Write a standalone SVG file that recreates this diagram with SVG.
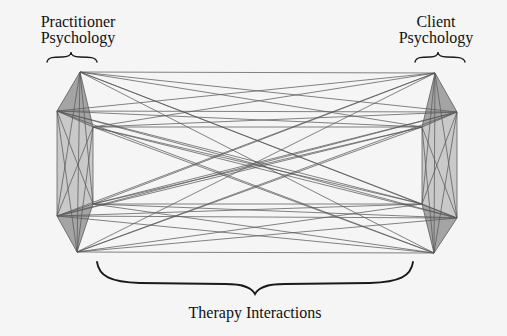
<svg xmlns="http://www.w3.org/2000/svg" width="507" height="336" viewBox="0 0 507 336">
<defs>
<style>
text{font-family:'Liberation Serif','Times New Roman',serif;font-size:16px;fill:#111;text-anchor:middle}
.e{stroke:#5a5a5a;stroke-width:0.75;fill:none}
.brace{stroke:#1a1a1a;fill:none;stroke-linecap:round}
.hex{fill:#c9c9c9;stroke:none}
.tri{fill:#a4a4a4;stroke:none}
</style>
</defs>
<rect width="507" height="336" fill="#f5f5f5"/>
<g id="practitioner">
<polygon class="hex" points="80,72 57,111 57,216 77,252 93,204 93,127"/>
<polygon class="tri" points="80,72 57,111 93,127"/>
<polygon class="tri" points="77,252 57,216 93,204"/>
<path class="e" d="M80,72L57,111M80,72L93,127M80,72L93,204M80,72L57,216M80,72L77,252M57,111L93,127M57,111L93,204M57,111L57,216M57,111L77,252M93,127L93,204M93,127L57,216M93,127L77,252M93,204L57,216M93,204L77,252M57,216L77,252"/>
<path class="brace" stroke-width="1.3" d="M47,62C48,57 54,57 62,57C69,57 71,55 71,52C71,55 73,57 80,57C89,57 96,57 97,62"/>
<text x="78" y="27" font-family="Liberation Serif, serif">Practitioner</text>
<text x="78" y="43" font-family="Liberation Serif, serif">Psychology</text>
</g>
<g id="client">
<polygon class="hex" points="435,73 422,127 422,204 434,253 457,218 457,112"/>
<polygon class="tri" points="435,73 422,127 457,112"/>
<polygon class="tri" points="434,253 422,204 457,218"/>
<path class="e" d="M435,73L422,127M435,73L457,112M435,73L457,218M435,73L422,204M435,73L434,253M422,127L457,112M422,127L457,218M422,127L422,204M422,127L434,253M457,112L457,218M457,112L422,204M457,112L434,253M457,218L422,204M457,218L434,253M422,204L434,253"/>
<path class="brace" stroke-width="1.3" d="M415,62C416,57 422,57 430,57C436,57 438,55 438,52C438,55 440,57 447,57C456,57 464,57 465,62"/>
<text x="436" y="27" font-family="Liberation Serif, serif">Client</text>
<text x="436" y="43" font-family="Liberation Serif, serif">Psychology</text>
</g>
<g id="connectors">
<path class="e" d="M80,72L435,73M80,72L422,127M80,72L457,112M80,72L457,218M80,72L422,204M80,72L434,253"/>
<path class="e" d="M57,111L435,73M57,111L422,127M57,111L457,112M57,111L457,218M57,111L422,204M57,111L434,253"/>
<path class="e" d="M93,127L435,73M93,127L422,127M93,127L457,112M93,127L457,218M93,127L422,204M93,127L434,253"/>
<path class="e" d="M93,204L435,73M93,204L422,127M93,204L457,112M93,204L457,218M93,204L422,204M93,204L434,253"/>
<path class="e" d="M57,216L435,73M57,216L422,127M57,216L457,112M57,216L457,218M57,216L422,204M57,216L434,253"/>
<path class="e" d="M77,252L435,73M77,252L422,127M77,252L457,112M77,252L457,218M77,252L422,204M77,252L434,253"/>
</g>
<g id="interactions">
<path class="brace" stroke-width="1.8" d="M97,262C99,276 110,282 140,283L225,284C245,284 252,288 255,294C258,288 265,284 285,284L370,283C400,282 411,276 413,262"/>
<text x="255" y="318" font-family="Liberation Serif, serif">Therapy Interactions</text>
</g>
</svg>
